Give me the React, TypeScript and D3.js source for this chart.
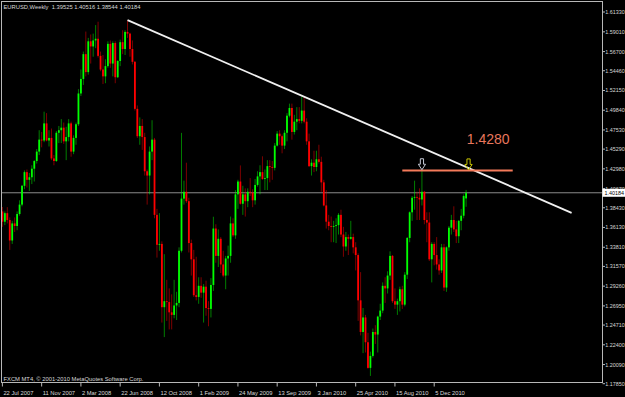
import React, { useEffect } from "react";
import * as d3 from "d3";

const W = 625;
const H = 397;

const symbolTitle = "EURUSD,Weekly";
const copyright = "FXCM MT4, \u00A9 2001-2010 MetaQuotes Software Corp.";
const firstWeek = "2007-07-22";

const opens = [
  1.3800, 1.3680, 1.3780, 1.3700, 1.3460, 1.3660, 1.3630, 1.3770, 1.3880, 1.4100,
  1.4260, 1.4170, 1.4200, 1.4300, 1.4390, 1.4500, 1.4640, 1.4630, 1.4830, 1.4630,
  1.4660, 1.4420, 1.4390, 1.4720, 1.4750, 1.4780, 1.4620, 1.4670, 1.4830, 1.4500,
  1.4660, 1.4820, 1.5180, 1.5350, 1.5640, 1.5430, 1.5790, 1.5730, 1.5800, 1.5820,
  1.5620, 1.5460, 1.5380, 1.5500, 1.5760, 1.5530, 1.5770, 1.5370, 1.5560, 1.5780,
  1.5700, 1.5900, 1.5880, 1.5700, 1.5550, 1.5000, 1.4680, 1.4800, 1.4670, 1.4270,
  1.4220, 1.4500, 1.4640, 1.3760, 1.3410, 1.3420, 1.2680, 1.2750, 1.2740, 1.2620,
  1.2590, 1.2700, 1.2730, 1.3340, 1.3950, 1.4030, 1.3920, 1.3430, 1.3240, 1.2820,
  1.2800, 1.2930, 1.2850, 1.2920, 1.2670, 1.2660, 1.2940, 1.3600, 1.3280, 1.3480,
  1.3180, 1.3050, 1.3250, 1.3280, 1.3660, 1.3520, 1.4000, 1.4150, 1.3890, 1.4000,
  1.3920, 1.4030, 1.4020, 1.3930, 1.4110, 1.4210, 1.4260, 1.4180, 1.4190, 1.4330,
  1.4320, 1.4310, 1.4570, 1.4710, 1.4680, 1.4570, 1.4720, 1.4920, 1.5010, 1.4730,
  1.4850, 1.4880, 1.4860, 1.4980, 1.4850, 1.4620, 1.4330, 1.4370, 1.4320, 1.4410,
  1.4380, 1.4140, 1.3870, 1.3680, 1.3630, 1.3620, 1.3630, 1.3640, 1.3760, 1.3530,
  1.3390, 1.3500, 1.3480, 1.3500, 1.3380, 1.3290, 1.2760, 1.2390, 1.2560, 1.2270,
  1.1970, 1.2110, 1.2390, 1.2360, 1.2570, 1.2640, 1.2930, 1.2900, 1.3050, 1.3280,
  1.2750, 1.2710, 1.2750, 1.2890, 1.2710, 1.3060, 1.3490, 1.3790, 1.3960, 1.3970,
  1.3960, 1.3940, 1.4030, 1.3700, 1.3670, 1.3240, 1.3420, 1.3290, 1.3180, 1.3110,
  1.3380, 1.2910, 1.3380, 1.3610, 1.3700, 1.3590, 1.3510, 1.3690, 1.3750, 1.39525,
];

const highs = [
  1.3852, 1.3800, 1.3850, 1.3730, 1.3690, 1.3730, 1.3800, 1.3930, 1.4110, 1.4280,
  1.4290, 1.4250, 1.4340, 1.4400, 1.4530, 1.4750, 1.4730, 1.4967, 1.4950, 1.4750,
  1.4770, 1.4460, 1.4740, 1.4800, 1.4880, 1.4840, 1.4790, 1.4880, 1.4850, 1.4690,
  1.4840, 1.5230, 1.5460, 1.5670, 1.5904, 1.5830, 1.5870, 1.5880, 1.5980, 1.6019,
  1.5670, 1.5630, 1.5580, 1.5790, 1.5800, 1.5790, 1.5790, 1.5570, 1.5810, 1.5920,
  1.5920, 1.6038, 1.5890, 1.5800, 1.5560, 1.5040, 1.4900, 1.4880, 1.4720, 1.4290,
  1.4560, 1.4867, 1.4660, 1.3830, 1.3780, 1.3450, 1.3300, 1.3000, 1.2900, 1.2830,
  1.3000, 1.2860, 1.3380, 1.4719, 1.4160, 1.4370, 1.3960, 1.3470, 1.3350, 1.3270,
  1.3030, 1.3030, 1.2950, 1.2990, 1.2750, 1.3020, 1.3738, 1.3650, 1.3590, 1.3500,
  1.3340, 1.3280, 1.3400, 1.3740, 1.3720, 1.4050, 1.4170, 1.4338, 1.4100, 1.4070,
  1.4070, 1.4190, 1.4060, 1.4180, 1.4270, 1.4340, 1.4445, 1.4290, 1.4400, 1.4400,
  1.4390, 1.4600, 1.4740, 1.4750, 1.4700, 1.4750, 1.4950, 1.5061, 1.5061, 1.4930,
  1.5020, 1.5020, 1.5144, 1.5140, 1.4890, 1.4710, 1.4410, 1.4510, 1.4510, 1.4580,
  1.4440, 1.4170, 1.4050, 1.3760, 1.3740, 1.3690, 1.3720, 1.3780, 1.3820, 1.3620,
  1.3560, 1.3530, 1.3690, 1.3540, 1.3440, 1.3310, 1.3090, 1.2670, 1.2590, 1.2380,
  1.2160, 1.2430, 1.2470, 1.2580, 1.2720, 1.2970, 1.3030, 1.3100, 1.3333, 1.3290,
  1.2900, 1.2780, 1.2920, 1.2930, 1.3090, 1.3500, 1.3800, 1.3980, 1.4160, 1.4030,
  1.4070, 1.4282, 1.4040, 1.3790, 1.3790, 1.3440, 1.3440, 1.3500, 1.3240, 1.3420,
  1.3420, 1.3390, 1.3630, 1.3760, 1.3860, 1.3690, 1.3700, 1.3830, 1.4000, 1.40516,
];

const lows = [
  1.3620, 1.3640, 1.3660, 1.3350, 1.3420, 1.3560, 1.3580, 1.3750, 1.3860, 1.4060,
  1.4080, 1.4040, 1.4120, 1.4150, 1.4360, 1.4460, 1.4550, 1.4610, 1.4620, 1.4560,
  1.4400, 1.4340, 1.4380, 1.4600, 1.4600, 1.4590, 1.4400, 1.4620, 1.4440, 1.4470,
  1.4580, 1.4800, 1.5150, 1.5280, 1.5380, 1.5400, 1.5530, 1.5610, 1.5710, 1.5600,
  1.5440, 1.5290, 1.5300, 1.5480, 1.5480, 1.5380, 1.5300, 1.5360, 1.5500, 1.5640,
  1.5630, 1.5830, 1.5610, 1.5520, 1.4980, 1.4660, 1.4580, 1.4520, 1.4220, 1.3880,
  1.4000, 1.4400, 1.3720, 1.3260, 1.3340, 1.2500, 1.2330, 1.2520, 1.2420, 1.2420,
  1.2550, 1.2530, 1.2680, 1.3320, 1.3880, 1.3900, 1.3320, 1.3050, 1.2800, 1.2760,
  1.2720, 1.2790, 1.2500, 1.2580, 1.2457, 1.2560, 1.2870, 1.3200, 1.3150, 1.3080,
  1.3030, 1.2890, 1.3050, 1.3200, 1.3500, 1.3480, 1.3830, 1.3880, 1.3760, 1.3740,
  1.3850, 1.3980, 1.3850, 1.3880, 1.4090, 1.4000, 1.4170, 1.4050, 1.4050, 1.4140,
  1.4170, 1.4280, 1.4560, 1.4580, 1.4480, 1.4530, 1.4620, 1.4900, 1.4640, 1.4700,
  1.4750, 1.4830, 1.4830, 1.4830, 1.4580, 1.4320, 1.4220, 1.4260, 1.4270, 1.4360,
  1.4030, 1.3860, 1.3600, 1.3580, 1.3440, 1.3440, 1.3430, 1.3530, 1.3500, 1.3270,
  1.3340, 1.3290, 1.3470, 1.3310, 1.3110, 1.2520, 1.2350, 1.2143, 1.2150, 1.1960,
  1.1876, 1.2090, 1.2250, 1.2150, 1.2530, 1.2610, 1.2730, 1.2840, 1.3000, 1.2730,
  1.2660, 1.2590, 1.2630, 1.2660, 1.2690, 1.3010, 1.3440, 1.3690, 1.3820, 1.3700,
  1.3700, 1.3870, 1.3650, 1.3440, 1.3220, 1.2970, 1.3170, 1.3120, 1.3060, 1.3080,
  1.2870, 1.2860, 1.3340, 1.3530, 1.3560, 1.3430, 1.3430, 1.3580, 1.3720, 1.38544,
];

const closes = [
  1.3680, 1.3780, 1.3700, 1.3460, 1.3660, 1.3630, 1.3770, 1.3880, 1.4100, 1.4260,
  1.4170, 1.4200, 1.4300, 1.4390, 1.4500, 1.4640, 1.4630, 1.4830, 1.4630, 1.4660,
  1.4420, 1.4390, 1.4720, 1.4750, 1.4780, 1.4620, 1.4670, 1.4830, 1.4500, 1.4660,
  1.4820, 1.5180, 1.5350, 1.5640, 1.5430, 1.5790, 1.5730, 1.5800, 1.5820, 1.5620,
  1.5460, 1.5380, 1.5500, 1.5760, 1.5530, 1.5770, 1.5370, 1.5560, 1.5780, 1.5700,
  1.5900, 1.5880, 1.5700, 1.5550, 1.5000, 1.4680, 1.4800, 1.4670, 1.4270, 1.4220,
  1.4500, 1.4640, 1.3760, 1.3410, 1.3420, 1.2680, 1.2750, 1.2740, 1.2620, 1.2590,
  1.2700, 1.2730, 1.3340, 1.3950, 1.4030, 1.3920, 1.3430, 1.3240, 1.2820, 1.2800,
  1.2930, 1.2850, 1.2920, 1.2670, 1.2660, 1.2940, 1.3600, 1.3280, 1.3480, 1.3180,
  1.3050, 1.3250, 1.3280, 1.3660, 1.3520, 1.4000, 1.4150, 1.3890, 1.4000, 1.3920,
  1.4030, 1.4020, 1.3930, 1.4110, 1.4210, 1.4260, 1.4180, 1.4190, 1.4330, 1.4320,
  1.4310, 1.4570, 1.4710, 1.4680, 1.4570, 1.4720, 1.4920, 1.5010, 1.4730, 1.4850,
  1.4880, 1.4860, 1.4980, 1.4850, 1.4620, 1.4330, 1.4370, 1.4320, 1.4410, 1.4380,
  1.4140, 1.3870, 1.3680, 1.3630, 1.3620, 1.3630, 1.3640, 1.3760, 1.3530, 1.3390,
  1.3500, 1.3480, 1.3500, 1.3380, 1.3290, 1.2760, 1.2390, 1.2560, 1.2270, 1.1970,
  1.2110, 1.2390, 1.2360, 1.2570, 1.2640, 1.2930, 1.2900, 1.3050, 1.3280, 1.2750,
  1.2710, 1.2750, 1.2890, 1.2710, 1.3060, 1.3490, 1.3790, 1.3960, 1.3970, 1.3960,
  1.3940, 1.4030, 1.3700, 1.3670, 1.3240, 1.3420, 1.3290, 1.3180, 1.3110, 1.3380,
  1.2910, 1.3380, 1.3610, 1.3700, 1.3590, 1.3510, 1.3690, 1.3750, 1.3980, 1.40184,
];

const priceTicks = [
  "1.61330", "1.59010", "1.56700", "1.54460", "1.52150", "1.49840", "1.47530",
  "1.45290", "1.42980", "1.40670", "1.38430", "1.36130", "1.33810", "1.31570",
  "1.29260", "1.26950", "1.24710", "1.22400", "1.20090", "1.17850",
];

const dateTicks = [
  "22 Jul 2007", "11 Nov 2007", "2 Mar 2008", "22 Jun 2008", "12 Oct 2008",
  "1 Feb 2009", "24 May 2009", "13 Sep 2009", "3 Jan 2010", "25 Apr 2010",
  "15 Aug 2010", "5 Dec 2010",
];

const trendPoints = [
  { date: "2008-07-13", price: 1.6038 },
  { date: "2012-01-01", price: 1.3784 },
];

const levelPrice = 1.428;
const levelSpan = ["2010-09-05", "2011-07-17"];
const levelLabel = "1.4280";
const levelLabelAt = { date: "2011-05-08", price: 1.4650 };

const arrowMarks = [
  { date: "2010-10-31", price: 1.4282, color: "#c4c8d4" },
  { date: "2011-03-13", price: 1.428, color: "#c8c400" },
];

const UP = "#00ff00";
const DOWN = "#ff0000";
const TEXT = "#d8d8d8";
const FONT = "'Liberation Sans', Arial, sans-serif";
const FS = 5.8;
const AXIS_FS = 5.4;

const parseIso = d3.utcParse("%Y-%m-%d");
const parseLabel = d3.utcParse("%d %b %Y");
const fmt5 = d3.format(".5f");

export default function App() {
  useEffect(() => {
    document.body.style.margin = "0";
    document.body.style.background = "#000";
  }, []);

  const start = parseIso(firstWeek) as Date;
  const dates = closes.map((_, i) => d3.utcWeek.offset(start, i));

  const x = d3
    .scaleUtc()
    .domain([parseLabel(dateTicks[0]) as Date, parseLabel(dateTicks[dateTicks.length - 1]) as Date])
    .range([2.4, 434.2]);

  const y = d3
    .scaleLinear()
    .domain([+priceTicks[priceTicks.length - 1], +priceTicks[0]])
    .range([383.7, 12]);

  const left = 1.5;
  const top = 1.5;
  const right = 602.5;
  const bottom = 382.5;

  const bodyW = 1.8;
  const last = closes.length - 1;

  const t0 = trendPoints[0];
  const t1 = trendPoints[1];

  const arrowPath = (cx: number, tipY: number) => {
    const p = [
      [cx - 1.6, tipY - 11],
      [cx + 1.6, tipY - 11],
      [cx + 1.6, tipY - 5.5],
      [cx + 3.6, tipY - 5.5],
      [cx, tipY],
      [cx - 3.6, tipY - 5.5],
      [cx - 1.6, tipY - 5.5],
    ];
    return d3.line()(p as [number, number][]) + "Z";
  };

  const bidY = y(closes[last]);

  return (
    <div style={{ position: "absolute", left: 0, top: 0, width: W, height: H, background: "#000" }}>
      <svg width={W} height={H} style={{ display: "block" }} fontFamily={FONT}>
        <rect x={0} y={0} width={W} height={H} fill="#000" />

        <defs>
          <clipPath id="plot">
            <rect x={left} y={top} width={right - left} height={bottom - top} />
          </clipPath>
        </defs>

        {/* bid line */}
        <line x1={left} x2={right} y1={bidY} y2={bidY} stroke="#8a8a8a" strokeWidth={1} />

        {/* candles */}
        <g clipPath="url(#plot)">
          {closes.map((c, i) => {
            const o = opens[i];
            const cx = x(dates[i]);
            const up = c >= o;
            const col = up ? UP : DOWN;
            const yTop = y(Math.max(o, c));
            const yBot = y(Math.min(o, c));
            return (
              <g key={i}>
                <line
                  x1={cx}
                  x2={cx}
                  y1={y(highs[i])}
                  y2={y(lows[i])}
                  stroke={col}
                  strokeOpacity={0.55}
                  strokeWidth={0.9}
                />
                <rect
                  x={cx - bodyW / 2}
                  y={yTop}
                  width={bodyW}
                  height={Math.max(0.8, yBot - yTop)}
                  fill={col}
                />
              </g>
            );
          })}

          {/* trend line */}
          <line
            x1={x(parseIso(t0.date) as Date)}
            y1={y(t0.price)}
            x2={x(parseIso(t1.date) as Date)}
            y2={y(t1.price)}
            stroke="#f0f0f0"
            strokeWidth={1.8}
          />

          {/* horizontal level */}
          <line
            x1={x(parseIso(levelSpan[0]) as Date)}
            x2={x(parseIso(levelSpan[1]) as Date)}
            y1={y(levelPrice)}
            y2={y(levelPrice)}
            stroke="#f47a5a"
            strokeWidth={2}
          />
          <text
            x={x(parseIso(levelLabelAt.date) as Date)}
            y={y(levelLabelAt.price)}
            fill="#e8765c"
            fontSize={14}
            textAnchor="middle"
            dominantBaseline="central"
          >
            {levelLabel}
          </text>

          {arrowMarks.map((a, i) => (
            <path
              key={i}
              d={arrowPath(x(parseIso(a.date) as Date), y(a.price) - 0.5)}
              fill="none"
              stroke={a.color}
              strokeWidth={1}
            />
          ))}
        </g>

        {/* frame */}
        <rect
          x={left}
          y={top}
          width={right - left}
          height={bottom - top}
          fill="none"
          stroke="#b8b8b8"
          strokeWidth={1}
        />

        {/* header */}
        <text x={3.5} y={8.6} fill={TEXT} fontSize={FS} style={{ whiteSpace: "pre" }}>
          {`${symbolTitle}  ${fmt5(opens[last])} ${fmt5(highs[last])} ${fmt5(lows[last])} ${fmt5(closes[last])}`}
        </text>

        {/* copyright */}
        <text x={3.5} y={381} fill={TEXT} fontSize={FS}>
          {copyright}
        </text>

        {/* price axis */}
        {priceTicks.map((t) => {
          const ty = y(+t);
          return (
            <g key={t}>
              <line x1={right} x2={right + 2.5} y1={ty} y2={ty} stroke="#b8b8b8" strokeWidth={1} />
              <text x={605.3} y={ty + 2} fill={TEXT} fontSize={AXIS_FS}>
                {t}
              </text>
            </g>
          );
        })}

        {/* bid label */}
        <rect x={right} y={bidY - 4} width={W - right} height={8} fill="#ffffff" />
        <text x={604.5} y={bidY + 2} fill="#000" fontSize={AXIS_FS}>
          {fmt5(closes[last])}
        </text>

        {/* date axis */}
        {dateTicks.map((t) => {
          const tx = x(parseLabel(t) as Date);
          return (
            <g key={t}>
              <line x1={tx} x2={tx} y1={bottom} y2={bottom + 4} stroke="#b8b8b8" strokeWidth={1} />
              <text x={tx + 1} y={394.6} fill={TEXT} fontSize={FS}>
                {t}
              </text>
            </g>
          );
        })}
      </svg>
    </div>
  );
}
